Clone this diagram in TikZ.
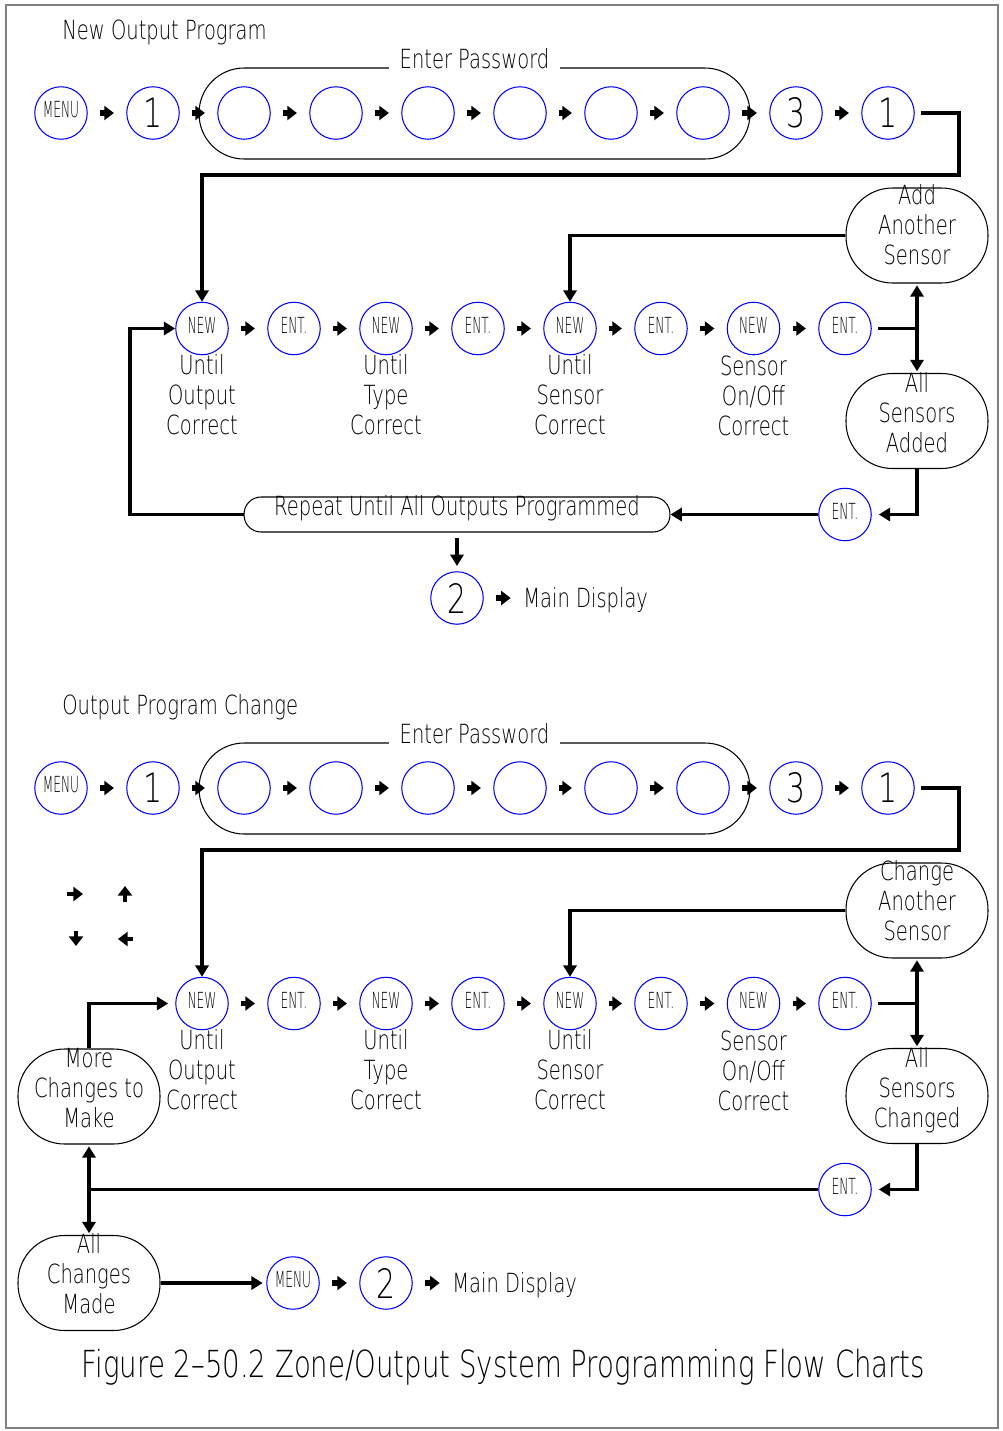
\documentclass[tikz,border=0pt]{standalone}
\usepackage{fontspec}
\setmainfont{DejaVu Sans ExtraLight}[FakeStretch=0.74]
\newfontfamily\keyfont{DejaVu Sans ExtraLight}[FakeStretch=0.55]
\usetikzlibrary{arrows.meta}
\newcommand\keylbl[1]{\raisebox{4pt}{#1}}

\begin{document}
\begin{tikzpicture}[x=0.02cm, y=-0.02cm, font=\fontsize{15}{17}\selectfont,
		key/.style={circle, draw=blue, line width=0.6pt, minimum size=1.05cm, inner sep=0pt, font=\fontsize{23}{23}\selectfont},
		btn/.style={key, font=\keyfont\fontsize{12.6}{13}\selectfont},
		lbl/.style={align=center, inner sep=0pt},
		stadium/.style={draw, line width=0.6pt, inner sep=0pt},
		pill/.style={stadium, minimum width=2.84cm, minimum height=1.9cm, rounded corners=0.93cm},
		wire/.style={line width=1.8pt},
		flow/.style={wire, -{Triangle[length=6.5pt,width=7.5pt]}},
		both/.style={wire, {Triangle[length=6.5pt,width=7.5pt]}-{Triangle[length=6.5pt,width=7.5pt]}, shorten <=1pt, shorten >=1pt},
		stub/.style={line width=3pt, -{Triangle[length=5.5pt,width=8pt]}, shorten <=7pt, shorten >=7pt},
		tick/.style={line width=2.5pt, -{Triangle[length=5.5pt,width=8pt]}}]
		\useasboundingbox (0,0) rectangle (1002,1431);
		\draw[gray, line width=1pt] (6,5) rectangle (998,1428);
		
		% New Output Program
		\node[lbl, anchor=base west] (titleA) at (62,39) {New Output Program};
		\node[btn] (menuA) at (61,113) {\keylbl{MENU}};
		\node[key] (oneA) at (153,113) {1};
		\foreach \i/\x in {1/244,2/336,3/428,4/520,5/611,6/703}
			\node[key] (pA\i) at (\x,113) {};
		\node[key] (threeA) at (796,113) {3};
		\node[key] (lastA) at (888,113) {1};
		\node[stadium, minimum width=11.02cm, minimum height=1.82cm, rounded corners=0.9cm] (pwA) at (474.5,113.5) {};
		\node[lbl, anchor=base, fill=white, inner xsep=6pt, inner ysep=1pt] (pwAt) at (474.5,68) {Enter Password};
		\foreach \a/\b in {menuA/oneA,oneA/pA1,pA1/pA2,pA2/pA3,pA3/pA4,pA4/pA5,pA5/pA6,pA6/threeA,threeA/lastA}
			\draw[stub] (\a) -- (\b);
		
		\node[btn] (nA1) at (202,328.5) {\keylbl{NEW}};
		\node[btn] (eA1) at (294,328.5) {\keylbl{ENT.}};
		\node[btn] (nA2) at (386,328.5) {\keylbl{NEW}};
		\node[btn] (eA2) at (478,328.5) {\keylbl{ENT.}};
		\node[btn] (nA3) at (570,328.5) {\keylbl{NEW}};
		\node[btn] (eA3) at (661,328.5) {\keylbl{ENT.}};
		\node[btn] (nA4) at (753.5,328.5) {\keylbl{NEW}};
		\node[btn] (eA4) at (845,328.5) {\keylbl{ENT.}};
		\foreach \a/\b in {nA1/eA1,eA1/nA2,nA2/eA2,eA2/nA3,nA3/eA3,eA3/nA4,nA4/eA4}
			\draw[stub] (\a) -- (\b);
		\node[lbl, anchor=north] (uA1) at (202,354) {Until\\Output\\Correct};
		\node[lbl, anchor=north] (uA2) at (386,354) {Until\\Type\\Correct};
		\node[lbl, anchor=north] (uA3) at (570,354) {Until\\Sensor\\Correct};
		\node[lbl, anchor=north] (uA4) at (753.5,356) {Sensor\\On/Off\\Correct};
		
		\node[pill] (addA) at (917,235.5) {};
		\node[lbl, anchor=north] (addAt) at (917,184) {Add\\Another\\Sensor};
		\node[pill] (allA) at (917,421) {};
		\node[lbl, anchor=north] (allAt) at (917,372) {All\\Sensors\\Added};
		\node[btn] (eA5) at (845,514.5) {\keylbl{ENT.}};
		\node[stadium, minimum width=8.52cm, minimum height=0.7cm, rounded corners=0.34cm] (repA) at (457,514.5) {};
		\node[lbl, anchor=base] (repAt) at (457,515) {Repeat Until All Outputs Programmed};
		\node[key] (twoA) at (457,598) {2};
		\node[lbl, anchor=base west] (mdA) at (523,607) {Main Display};
		
		\draw[flow, shorten <=3.5pt] (lastA) -| (959,175) -| (nA1);
		\draw[flow] (addA) -| (nA3);
		\draw[wire, shorten <=3.5pt] (eA4) -- (eA4 -| addA);
		\draw[both] (addA) -- (allA);
		\draw[flow, shorten >=4pt] (allA) |- (eA5);
		\draw[flow] (eA5) -- (repA);
		\draw[flow] (repA) -| (130,328.5) -- (nA1);
		\draw[flow, shorten <=3pt, shorten >=3pt] (repA) -- (twoA);
		\draw[stub] (twoA) -- (twoA -| mdA.west);
		
		% Output Program Change
		\node[lbl, anchor=base west] (titleB) at (62,714) {Output Program Change};
		\node[btn] (menuB) at (61,788) {\keylbl{MENU}};
		\node[key] (oneB) at (153,788) {1};
		\foreach \i/\x in {1/244,2/336,3/428,4/520,5/611,6/703}
			\node[key] (pB\i) at (\x,788) {};
		\node[key] (threeB) at (796,788) {3};
		\node[key] (lastB) at (888,788) {1};
		\node[stadium, minimum width=11.02cm, minimum height=1.82cm, rounded corners=0.9cm] (pwB) at (474.5,788.5) {};
		\node[lbl, anchor=base, fill=white, inner xsep=6pt, inner ysep=1pt] (pwBt) at (474.5,743) {Enter Password};
		\foreach \a/\b in {menuB/oneB,oneB/pB1,pB1/pB2,pB2/pB3,pB3/pB4,pB4/pB5,pB5/pB6,pB6/threeB,threeB/lastB}
			\draw[stub] (\a) -- (\b);
		
		\draw[tick] (67,894) -- (83,894);
		\draw[tick] (125,902) -- (125,886);
		\draw[tick] (76,931) -- (76,946);
		\draw[tick] (133,939) -- (118,939);
		
		\node[btn] (nB1) at (202,1003.5) {\keylbl{NEW}};
		\node[btn] (eB1) at (294,1003.5) {\keylbl{ENT.}};
		\node[btn] (nB2) at (386,1003.5) {\keylbl{NEW}};
		\node[btn] (eB2) at (478,1003.5) {\keylbl{ENT.}};
		\node[btn] (nB3) at (570,1003.5) {\keylbl{NEW}};
		\node[btn] (eB3) at (661,1003.5) {\keylbl{ENT.}};
		\node[btn] (nB4) at (753.5,1003.5) {\keylbl{NEW}};
		\node[btn] (eB4) at (845,1003.5) {\keylbl{ENT.}};
		\foreach \a/\b in {nB1/eB1,eB1/nB2,nB2/eB2,eB2/nB3,nB3/eB3,eB3/nB4,nB4/eB4}
			\draw[stub] (\a) -- (\b);
		\node[lbl, anchor=north] (uB1) at (202,1029) {Until\\Output\\Correct};
		\node[lbl, anchor=north] (uB2) at (386,1029) {Until\\Type\\Correct};
		\node[lbl, anchor=north] (uB3) at (570,1029) {Until\\Sensor\\Correct};
		\node[lbl, anchor=north] (uB4) at (753.5,1031) {Sensor\\On/Off\\Correct};
		
		\node[pill] (chgB) at (917,910.5) {};
		\node[lbl, anchor=north] (chgBt) at (917,860) {Change\\Another\\Sensor};
		\node[pill] (allB) at (917,1096) {};
		\node[lbl, anchor=north] (allBt) at (917,1047) {All\\Sensors\\Changed};
		\node[btn] (eB5) at (845,1189.5) {\keylbl{ENT.}};
		\node[pill] (moreB) at (89,1096.5) {};
		\node[lbl, anchor=north] (moreBt) at (89,1048) {More\\Changes to\\Make};
		\node[pill] (doneB) at (89,1283) {};
		\node[lbl, anchor=north] (doneBt) at (89,1233) {All\\Changes\\Made};
		\node[btn] (menuC) at (293,1283) {\keylbl{MENU}};
		\node[key] (twoB) at (386,1283) {2};
		\node[lbl, anchor=base west] (mdB) at (452,1292) {Main Display};
		
		\draw[flow, shorten <=3.5pt] (lastB) -| (959,850) -| (nB1);
		\draw[flow] (chgB) -| (nB3);
		\draw[wire, shorten <=3.5pt] (eB4) -- (eB4 -| chgB);
		\draw[both] (chgB) -- (allB);
		\draw[flow, shorten >=4pt] (allB) |- (eB5);
		\draw[wire] (eB5) -- (eB5 -| moreB);
		\draw[both] (moreB) -- (doneB);
		\draw[flow, shorten >=4pt] (moreB) |- (nB1);
		\draw[flow, shorten >=2pt] (doneB) -- (menuC);
		\draw[stub] (menuC) -- (twoB);
		\draw[stub] (twoB) -- (twoB -| mdB.west);
		
		\node[anchor=base, inner sep=0pt, font=\fontsize{21.2}{22}\selectfont] (cap) at (503.5,1377) {Figure 2–50.2 Zone/Output System Programming Flow Charts};
		\end{tikzpicture}
\end{document}
